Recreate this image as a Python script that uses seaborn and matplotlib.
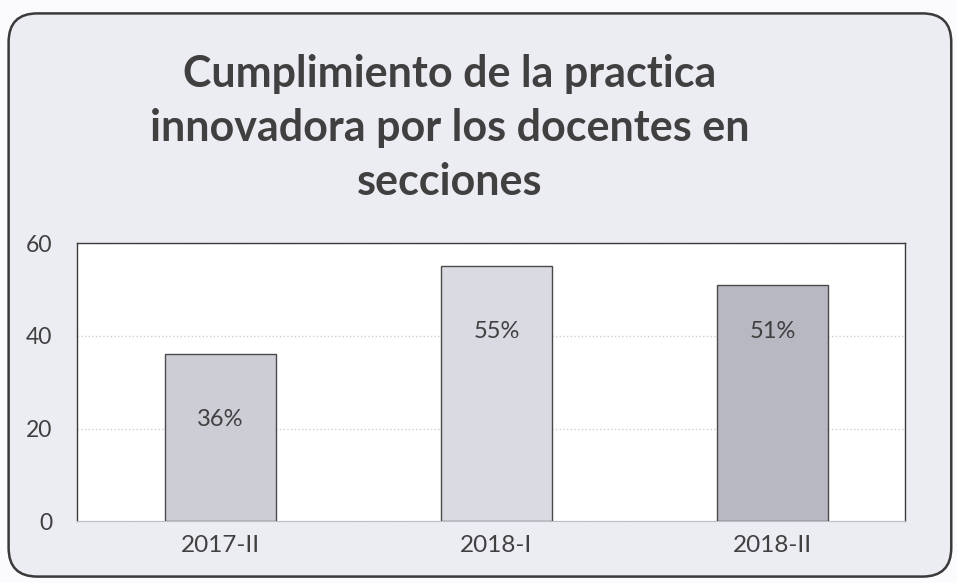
import matplotlib.pyplot as plt
import seaborn as sns
import pandas as pd
from matplotlib.patches import FancyBboxPatch

# data
periodos = ['2017-II', '2018-I', '2018-II']
valores = [36, 55, 51]
etiquetas = ['36%', '55%', '51%']
colores = ['#cdcdd6', '#dadae3', '#b8b8c2']

df = pd.DataFrame({'periodo': periodos, 'valor': valores})

sns.set_style('white')
plt.rcParams['font.family'] = ['Lato', 'DejaVu Sans']

fig = plt.figure(figsize=(9.57, 5.83), dpi=100)
fig.patch.set_facecolor('#fbfbfe')

# rounded frame around the whole chart
frame = FancyBboxPatch((0.009, 0.011), 0.985, 0.966,
                       boxstyle='round,pad=0,rounding_size=0.03',
                       transform=fig.transFigure, facecolor='#ececf3',
                       edgecolor='#3a3a3a', linewidth=1.8, zorder=-5,
                       mutation_aspect=957 / 583)
fig.patches.append(frame)

ax = fig.add_axes([0.0805, 0.106, 0.865, 0.477])
ax.set_zorder(2)
ax.set_facecolor('white')

sns.barplot(data=df, x='periodo', y='valor', hue='periodo', palette=colores,
            width=0.4, edgecolor='#4a4a4a', linewidth=1.0, legend=False,
            ax=ax, zorder=3, saturation=1)

# label heights as in the original (inside the bars)
alto_etiqueta = [22, 41, 41]
for i, txt in enumerate(etiquetas):
    ax.text(i, alto_etiqueta[i], txt, ha='center', va='center', fontsize=17,
            color='#404040', zorder=4)

ax.set_xlim(-0.52, 2.48)
ax.set_ylim(0, 60)
ax.set_yticks([0, 20, 40, 60])
ax.yaxis.grid(True, color='#cfcfd6', linewidth=1.0, linestyle=':')
ax.set_axisbelow(True)
ax.tick_params(axis='y', length=0, labelsize=16.5, labelcolor='#404040', pad=18)
ax.tick_params(axis='x', length=0, labelsize=17.5, labelcolor='#404040', pad=10)
ax.set_xlabel('')
ax.set_ylabel('')
for s in ['top', 'left', 'right']:
    ax.spines[s].set_visible(True)
    ax.spines[s].set_color('#3a3a3a')
    ax.spines[s].set_linewidth(1.0)
ax.spines['bottom'].set_color('#bdbdc4')

fig.text(0.47, 0.78, 'Cumplimiento de la practica\ninnovadora por los docentes en\nsecciones',
         ha='center', va='center', fontsize=31, fontweight='bold',
         color='#404040', linespacing=1.42, zorder=3)

plt.savefig('out.png', dpi=100, facecolor=fig.get_facecolor())
